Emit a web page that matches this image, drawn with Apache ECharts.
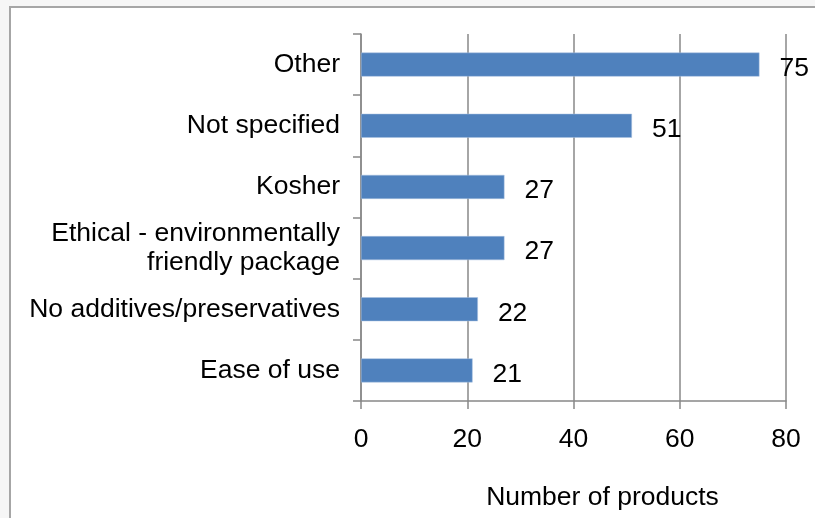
<!DOCTYPE html>
<html><head><meta charset="utf-8">
<script src="https://cdn.jsdelivr.net/npm/echarts@6/dist/echarts.min.js"></script>
<style>html,body{margin:0;padding:0;background:#fff}#c{width:815px;height:518px}</style>
</head><body><div id="c"></div>
<script>
const categories = ["Other", "Not specified", "Kosher", "Ethical - environmentally\nfriendly package", "No additives/preservatives", "Ease of use"];
const values = [75, 51, 27, 27, 22, 21];
const xTicks = [0, 20, 40, 60, 80];
const xTitle = "Number of products";

const font = "'Liberation Sans', Arial, sans-serif";
const fs = 26.5;
const chart = echarts.init(document.getElementById('c'), null, {renderer: 'canvas'});
chart.setOption({
  animation: false,
  backgroundColor: '#f6f6f6',
  graphic: [{
    type: 'rect', x: 10, y: 7,
    shape: {width: 1000, height: 1000},
    style: {fill: '#ffffff', stroke: '#a6a6a6', lineWidth: 2},
    silent: true, z: -1
  }],
  grid: {left: 361, right: 29, top: 34, bottom: 117, containLabel: false},
  xAxis: {
    type: 'value', min: xTicks[0], max: xTicks[xTicks.length - 1], interval: 20,
    name: xTitle, nameLocation: 'middle', nameGap: 83,
    nameTextStyle: {fontSize: fs, color: '#000', fontFamily: font, padding: [0, 0, 0, 58]},
    axisLine: {show: true, lineStyle: {color: '#888', width: 1.5}},
    axisTick: {show: true, length: 8, lineStyle: {color: '#888', width: 1.5}},
    axisLabel: {fontSize: fs, color: '#000', fontFamily: font, margin: 25},
    splitLine: {show: true, lineStyle: {color: '#888', width: 1.5}}
  },
  yAxis: {
    type: 'category', data: categories, inverse: true,
    axisLine: {show: true, lineStyle: {color: '#888', width: 1.5}},
    axisTick: {show: true, length: 8, lineStyle: {color: '#888', width: 1.5}},
    axisLabel: {fontSize: fs, color: '#000', fontFamily: font, margin: 21, lineHeight: 29, align: 'right', padding: [6, 0, 0, 0]},
    splitLine: {show: false}
  },
  series: [{
    type: 'bar', data: values, barWidth: 24,
    itemStyle: {color: '#4F81BD', borderColor: '#a9c0e0', borderWidth: 0.5},
    label: {show: true, position: 'right', distance: 20, fontSize: fs, color: '#000', fontFamily: font, offset: [0, 4]}
  }]
});
</script></body></html>
